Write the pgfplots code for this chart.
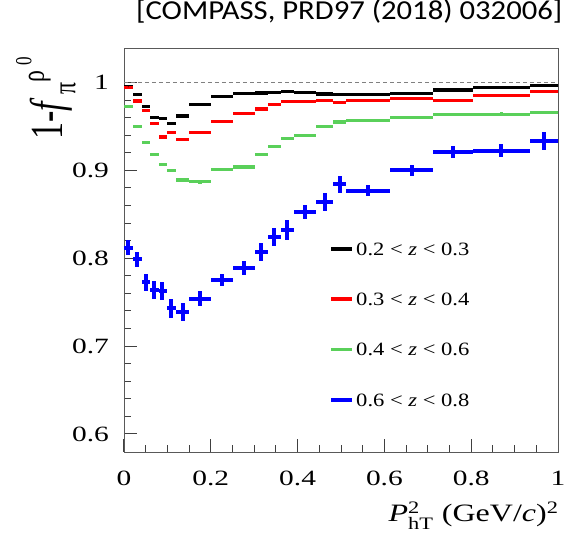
\documentclass[border=0pt]{standalone}
\usepackage{pgfplots}
\pgfplotsset{compat=1.18}
\usepackage{pgfplotstable}
\usepackage{amsmath}
\usepackage{fontspec}
\setmainfont{Liberation Serif}
\newfontfamily\tickfont{Liberation Serif}[FakeStretch=1.35]
\newfontfamily\legfont{Liberation Serif}[FakeStretch=1.2]
\newfontfamily\xlabfont{Liberation Serif}[FakeStretch=1.28]
\newfontfamily\ylabfont{Liberation Serif}[FakeStretch=0.74]
\newfontfamily\titlefont{Carlito}[FakeStretch=1.12]
\definecolor{cgreen}{RGB}{90,208,90}
\definecolor{cblue}{RGB}{0,0,255}
\definecolor{cred}{RGB}{255,0,0}

\pgfplotstableread{
x     xl    xh    yk     yr     yg     yb     ek     er     eg     eb
0.010 0.010 0.010 0.995  0.994  0.973  0.812  0.001  0.0015 0.002  0.0085
0.029 0.009 0.012 0.986  0.979  0.950  0.799  0.001  0.0015 0.002  0.0085
0.050 0.009 0.011 0.973  0.968  0.932  0.7725 0.001  0.0015 0.002  0.0095
0.069 0.008 0.011 0.960  0.953  0.918  0.764  0.001  0.0015 0.002  0.0099
0.088 0.008 0.012 0.959  0.938  0.907  0.763  0.001  0.0015 0.002  0.0100
0.108 0.008 0.012 0.953  0.943  0.900  0.743  0.001  0.0015 0.002  0.0110
0.135 0.015 0.015 0.962  0.935  0.889  0.739  0.001  0.0015 0.002  0.0099
0.175 0.025 0.026 0.975  0.943  0.887  0.754  0.001  0.0015 0.002  0.0082
0.225 0.024 0.027 0.984  0.956  0.901  0.775  0.001  0.0015 0.002  0.0068
0.276 0.024 0.026 0.9875 0.965  0.904  0.789  0.001  0.0015 0.002  0.0084
0.316 0.014 0.016 0.988  0.970  0.918  0.807  0.001  0.0015 0.002  0.0103
0.346 0.014 0.016 0.989  0.975  0.927  0.824  0.001  0.0015 0.002  0.0099
0.376 0.014 0.016 0.990  0.978  0.9365 0.832  0.001  0.0015 0.002  0.0110
0.417 0.025 0.025 0.989  0.978  0.940  0.853  0.001  0.0015 0.002  0.0078
0.462 0.020 0.020 0.987  0.9795 0.950  0.864  0.001  0.0015 0.002  0.0099
0.498 0.016 0.014 0.986  0.977  0.955  0.884  0.001  0.0015 0.002  0.0099
0.562 0.050 0.050 0.986  0.980  0.957  0.877  0.001  0.0015 0.002  0.0065
0.664 0.052 0.049 0.9875 0.982  0.960  0.900  0.001  0.0015 0.002  0.0066
0.759 0.046 0.044 0.9915 0.980  0.9635 0.921  0.001  0.0015 0.002  0.0072
0.869 0.066 0.066 0.9945 0.985  0.964  0.9225 0.001  0.0015 0.002  0.0070
0.968 0.033 0.040 0.9965 0.990  0.966  0.9335 0.001  0.0015 0.002  0.0099
}\data

\pgfplotsset{
  binbars/.style={only marks, mark=*, mark size=0.01pt,
    mark options={draw=none, fill=none},
    error bars/x dir=both, error bars/x explicit,
    error bars/y dir=both, error bars/y explicit,
    error bars/error mark=none,
    error bars/error bar style={line width=#1}},
}

\begin{document}
\begin{tikzpicture}
\begin{axis}[
  at={(0pt,0pt)}, anchor=south west,
  scale only axis,
  width=217pt, height=201.85pt,
  xmin=0, xmax=1, ymin=0.5795, ymax=1.039,
  clip=true,
  axis line style={black!65},
  tick style={black!75, line width=0.5pt},
  tick align=inside,
  xtick={0,0.2,0.4,0.6,0.8,1},
  xticklabels={0,0.2,0.4,0.6,0.8,1},
  ytick={0.6,0.7,0.8,0.9,1},
  yticklabels={0.6,0.7,0.8,0.9,1},
  minor x tick num=3,
  minor y tick num=4,
  xtick pos=bottom, ytick pos=left,
  major tick length=6.5pt, minor tick length=3.3pt,
  /pgf/number format/assume math mode=true,
  ticklabel style={font=\tickfont\fontsize{10.9}{12}\selectfont},
  xticklabel style={yshift=-5.8pt},
  yticklabel style={xshift=-4pt},
  title={[COMPASS, PRD97 (2018) 032006]},
  title style={at={(axis description cs:0.519,1.0428)}, anchor=base, font=\titlefont\fontsize{13.7}{15}\selectfont, inner sep=0pt},
  xlabel={\textit{P}$^{\text{2}}_{\text{hT}}$ (GeV/\textit{c})$^{\text{2}}$},
  xlabel style={at={(axis description cs:1,0)}, anchor=base east, yshift=-34.9pt, xshift=0.7pt, font=\xlabfont\fontsize{12.5}{14}\selectfont, inner sep=0pt},
  ylabel={$\text{1-}\text{\itshape f}^{\mkern10mu\text{ρ}^{\mkern4mu\text{0}}}_{\mkern4mu\text{π}}$},
  ylabel style={at={(axis description cs:-0.1406,0.773)}, anchor=base west, font=\ylabfont\fontsize{23}{25}\selectfont, inner sep=0pt},
  legend style={at={(rel axis cs:0.472,0.525)}, anchor=north west, draw=none, fill=none,
    font=\legfont\fontsize{9.4}{11}\selectfont, row sep=15pt, inner sep=0pt,
    nodes={inner sep=1.2pt, anchor=west}},
  legend cell align=left,
]
\addplot[gray, dashed, line width=0.5pt, dash pattern=on 2pt off 1.5pt, forget plot] coordinates {(0,1) (1,1)};

\addplot[black, binbars=1.6pt,
  legend image code/.code={\draw[black, line width=1.8pt] (0pt,0.9pt) -- (10.5pt,0.9pt);}]
  table[x=x, y=yk, x error minus=xl, x error plus=xh, y error=ek] {\data};
\addlegendentry{0.2 < \textit{z} < 0.3}

\addplot[cred, binbars=1.6pt,
  legend image code/.code={\draw[cred, line width=1.8pt] (0pt,0.9pt) -- (10.5pt,0.9pt);}]
  table[x=x, y=yr, x error minus=xl, x error plus=xh, y error=er] {\data};
\addlegendentry{0.3 < \textit{z} < 0.4}

\addplot[cgreen, binbars=1.6pt,
  legend image code/.code={\draw[cgreen, line width=1.8pt] (0pt,0.9pt) -- (10.5pt,0.9pt);}]
  table[x=x, y=yg, x error minus=xl, x error plus=xh, y error=eg] {\data};
\addlegendentry{0.4 < \textit{z} < 0.6}

\addplot[cblue, binbars=2pt,
  legend image code/.code={\draw[cblue, line width=1.8pt] (0pt,0.9pt) -- (10.5pt,0.9pt);}]
  table[x=x, y=yb, x error minus=xl, x error plus=xh, y error=eb] {\data};
\addlegendentry{0.6 < \textit{z} < 0.8}
\end{axis}
\pgfresetboundingbox
\path[use as bounding box] (-62pt,-47pt) rectangle (222pt,226pt);
\end{tikzpicture}
\end{document}
